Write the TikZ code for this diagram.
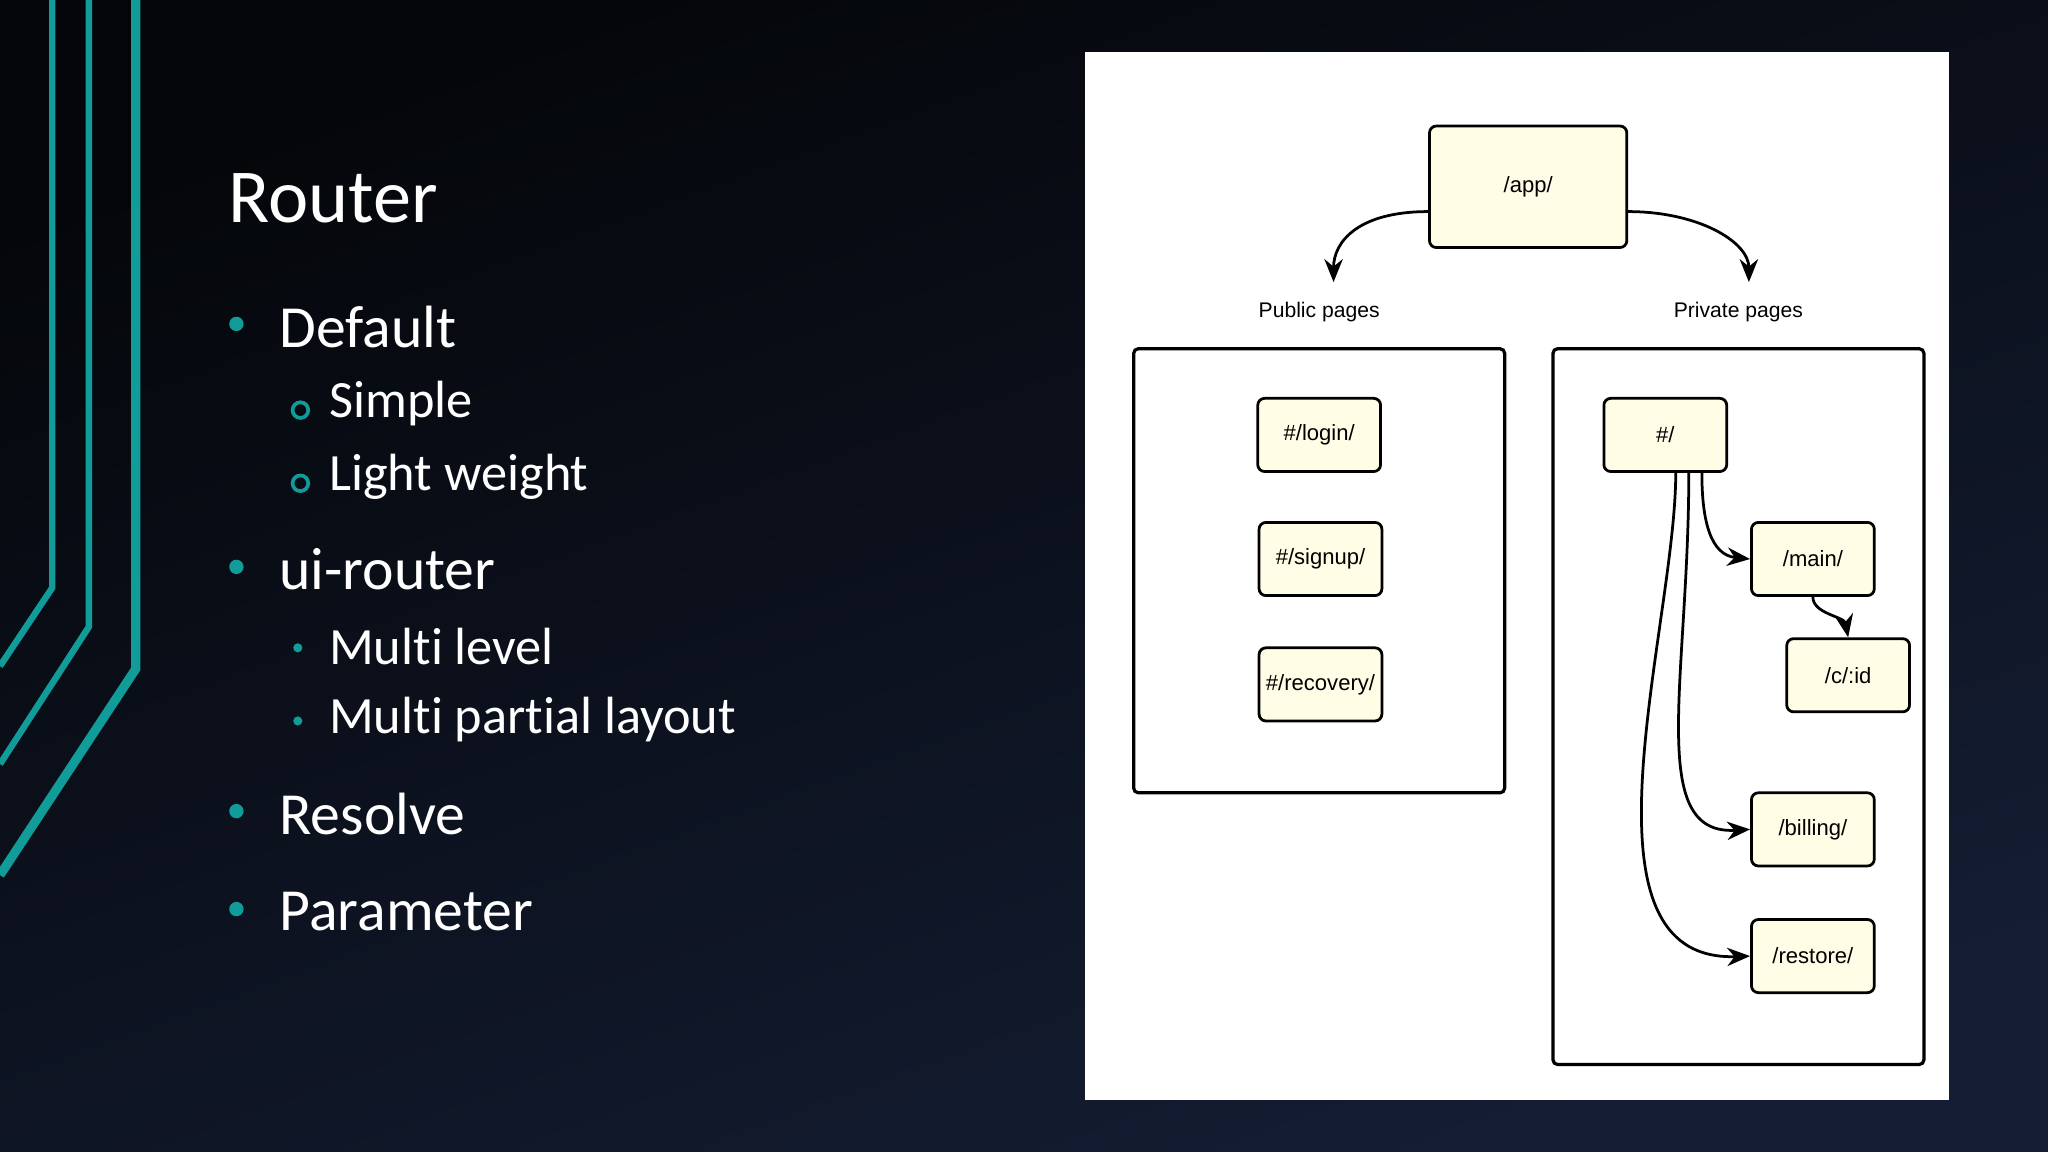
\documentclass[tikz,border=0pt]{standalone}
\usepackage{fontspec}
\setmainfont{Carlito}[RawFeature=-liga]
\newfontfamily\arialfont{Liberation Sans}
\usetikzlibrary{positioning,arrows.meta}
\definecolor{slidetop}{HTML}{040609}
\definecolor{slidebot}{HTML}{141D33}
\definecolor{accent}{HTML}{119C9A}
\definecolor{boxfill}{HTML}{FFFDE6}
\begin{document}
\begin{tikzpicture}[x=0.01cm,y=-0.01cm,>={Stealth[length=5pt,width=4pt]},line width=0.6pt]
    \tikzstyle{route}=[draw=black,fill=boxfill,rounded corners=1.5pt,minimum width=0.94cm,minimum height=0.56cm,inner sep=0pt,font=\arialfont\fontsize{4.8}{5}\selectfont]
    \tikzstyle{group}=[draw=black,rounded corners=1pt,line width=0.7pt]
    \tikzstyle{caption}=[font=\arialfont\fontsize{4.6}{5}\selectfont]
    \tikzstyle{item}=[anchor=west,inner sep=0pt,text=white,font=\fontsize{13}{16}\selectfont]
    \tikzstyle{subitem}=[anchor=west,inner sep=0pt,text=white,font=\fontsize{11.4}{14}\selectfont]

    % Background of the slide
    \shade[top color=slidetop,bottom color=slidebot,shading angle=20] (0,0) rectangle (1568,882);
    \useasboundingbox (0,0) rectangle (1568,882);

    % Teal lines on the left
    \draw[accent,line width=1.4pt] (40,0) -- (40,450) -- (0,510);
    \draw[accent,line width=1.4pt] (68,0) -- (68,480) -- (0,585);
    \draw[accent,line width=2pt] (104,0) -- (104,512) -- (0,670);

    % Title and bullets
    \node[anchor=west,inner sep=0pt,text=white,font=\fontsize{16.6}{20}\selectfont] (title) at (174,152) {Router};
    \foreach \y/\t in {250/Default,436/ui-router,623/Resolve,698/Parameter}{
        \fill[accent] (181,\y-2) circle (5.5);
        \node[item] at (213,\y) {\t};
    }
    \foreach \y/\t in {309/Simple,365/Light weight}{
        \draw[accent,line width=0.8pt] (230,\y+5) circle (6);
        \node[subitem] at (251,\y) {\t};
    }
    \foreach \y/\t in {495/Multi level,551/Multi partial layout}{
        \fill[accent] (228,\y+1) circle (3.5);
        \node[subitem] at (251,\y) {\t};
    }

    % The diagram panel
    \fill[white] (831,40) rectangle (1492,842);
    \draw[group] (868,267) rectangle (1152,607);
    \draw[group] (1189,267) rectangle (1473,815);

    \node[route,minimum width=1.51cm,minimum height=0.93cm] (app) at (1170,143) {/app/};
    \node[caption] (public) at (1010,239) {Public pages};
    \node[caption] (private) at (1331,239) {Private pages};
    \coordinate (pubtip) at (1021,216);
    \coordinate (privtip) at (1339,216);

    % Public routes
    \node[route] (login) at (1010,333) {\#/login/};
    \node[route] (signup) at (1011,428) {\#/signup/};
    \node[route] (recovery) at (1011,524) {\#/recovery/};

    % Private routes
    \node[route] (root) at (1275,333) {\#/};
    \node[route] (main) at (1388,428) {/main/};
    \node[route] (cid) at (1415,517) {/c/:id};
    \node[route] (billing) at (1388,635) {/billing/};
    \node[route] (restore) at (1388,732) {/restore/};

    % Connections
    \draw[->] (app.west |- 0,162) .. controls (1040,162) and (1021,185) .. (pubtip);
    \draw[->] (app.east |- 0,162) .. controls (1300,162) and (1339,185) .. (privtip);
    \draw[->] (root.south -| 1303,0) .. controls (1303,400) and (1310,425) .. (main.west);
    \draw[->] (main.south) .. controls (1388,470) and (1412,472) .. (cid.north);
    \draw[->] (root.south -| 1293,0) .. controls (1293,520) and (1260,640) .. (billing.west);
    \draw[->] (root.south -| 1283,0) .. controls (1283,480) and (1200,737) .. (restore.west);
\end{tikzpicture}
\end{document}
